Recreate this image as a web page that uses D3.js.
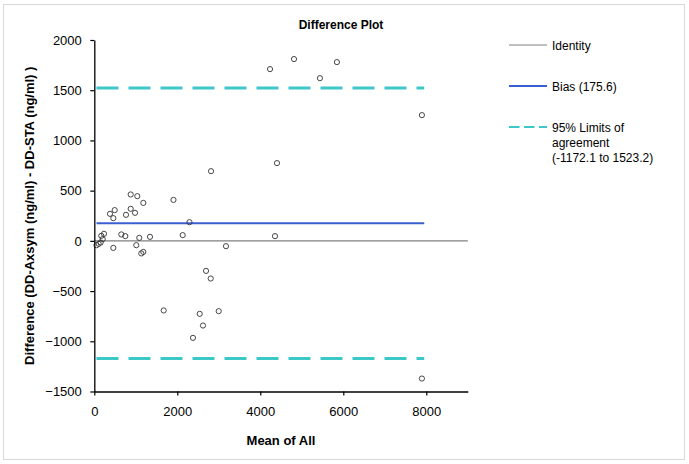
<!DOCTYPE html>
<html>
<head>
<meta charset="utf-8">
<script src="https://cdn.jsdelivr.net/npm/d3@7"></script>
<style>
  body { margin: 0; background: #fff; }
  svg text { font-family: "Liberation Sans", Arial, sans-serif; fill: #000; }
</style>
</head>
<body>
<div id="chart"></div>
<script>
// Difference plot: mean of all vs difference
const meanValues = [
  4234, 4812, 5437, 5846, 7894, 4402, 2813, 1908, 2294, 4354,
  3173, 2130, 2692, 2805, 1672, 2998, 2540, 2619, 2378, 7894,
  877, 1036, 1181, 492, 378, 458, 764, 877, 981, 234,
  651, 747, 1084, 1342, 106, 154, 202, 169, 53, 458,
  1012, 1133, 1181
];
const diffValues = [
  1710, 1810, 1620, 1780, 1252, 774, 694, 408, 186, 47,
  -53, 57, -299, -375, -693, -700, -727, -843, -966, -1371,
  462, 445, 378, 306, 269, 226, 259, 319, 279, 70,
  64, 47, 30, 40, -30, -16, 17, 50, -43, -70,
  -43, -125, -110
];
const xTicks = [0, 2000, 4000, 6000, 8000];
const yTicks = [-1500, -1000, -500, 0, 500, 1000, 1500, 2000];
const bias = 175.6;
const limits = [-1172.1, 1523.2];
const lineExtent = [53, 7950];
const legendItems = [
  { key: "identity", lines: ["Identity"] },
  { key: "bias", lines: ["Bias (175.6)"] },
  { key: "limits", lines: ["95% Limits of", "agreement", "(-1172.1 to 1523.2)"] }
];

const width = 689, height = 464;
const margin = { top: 40, left: 94.3, right: 689 - 467.8, bottom: 464 - 391.5 };
const COLORS = { identity: "#808080", bias: "#3a5fd0", limits: "#3cc8c8" };

const svg = d3.select("#chart").append("svg")
  .attr("width", width)
  .attr("height", height);

// outer frame
svg.append("rect")
  .attr("x", 3.5).attr("y", 4.5)
  .attr("width", 681).attr("height", 455)
  .attr("fill", "#fff")
  .attr("stroke", "#d9d9d9");

const x = d3.scaleLinear().domain([0, 9000]).range([margin.left, width - margin.right]);
const y = d3.scaleLinear().domain([-1500, 2000]).range([height - margin.bottom, margin.top]);

const data = d3.zip(meanValues, diffValues).map(([m, d]) => ({ x: m, y: d }));

// identity line across the whole plot
svg.append("line")
  .attr("x1", x(0)).attr("x2", x(9000))
  .attr("y1", y(0)).attr("y2", y(0))
  .attr("stroke", COLORS.identity)
  .attr("stroke-width", 1.2);

// bias
svg.append("line")
  .attr("x1", x(lineExtent[0])).attr("x2", x(lineExtent[1]))
  .attr("y1", y(bias)).attr("y2", y(bias))
  .attr("stroke", COLORS.bias)
  .attr("stroke-width", 2);

// limits of agreement
svg.append("g")
  .selectAll("line")
  .data(limits)
  .join("line")
  .attr("x1", x(lineExtent[0])).attr("x2", x(lineExtent[1]))
  .attr("y1", (d) => y(d)).attr("y2", (d) => y(d))
  .attr("stroke", COLORS.limits)
  .attr("stroke-width", 3)
  .attr("stroke-dasharray", "22,10");

// points
svg.append("g")
  .selectAll("circle")
  .data(data)
  .join("circle")
  .attr("cx", (d) => x(d.x))
  .attr("cy", (d) => y(d.y))
  .attr("r", 2.6)
  .attr("fill", "none")
  .attr("stroke", "#333")
  .attr("stroke-width", 0.9);

// axes
const fmt = d3.format("d");
const gx = svg.append("g")
  .attr("transform", `translate(0,${y(-1500)})`)
  .call(d3.axisBottom(x).tickValues(xTicks).tickFormat(fmt).tickSize(4).tickSizeOuter(0).tickPadding(11));
const gy = svg.append("g")
  .attr("transform", `translate(${x(0)},0)`)
  .call(d3.axisLeft(y).tickValues(yTicks).tickFormat(fmt).tickSize(4).tickSizeOuter(0).tickPadding(8.5));

[gx, gy].forEach((g) => {
  g.select(".domain").attr("stroke", "#000").attr("stroke-width", 1.3);
  g.selectAll(".tick line").attr("stroke", "#000").attr("stroke-width", 1.2);
  g.selectAll("text")
    .attr("font-size", 13)
    .attr("font-family", "Liberation Sans, Arial, sans-serif")
    .attr("fill", "#000");
});

// titles
svg.append("text")
  .attr("x", 341).attr("y", 29)
  .attr("text-anchor", "middle")
  .attr("font-size", 12)
  .attr("font-weight", "bold")
  .text("Difference Plot");

svg.append("text")
  .attr("x", 281).attr("y", 445)
  .attr("text-anchor", "middle")
  .attr("font-size", 13)
  .attr("font-weight", "bold")
  .text("Mean of All");

svg.append("text")
  .attr("transform", `translate(34,${(y(2000) + y(-1500)) / 2}) rotate(-90)`)
  .attr("text-anchor", "middle")
  .attr("font-size", 13)
  .attr("font-weight", "bold")
  .text("Difference (DD-Axsym (ng/ml) - DD-STA (ng/ml) )");

// legend
const legend = svg.append("g").attr("transform", "translate(509,45)");
const item = legend.selectAll("g")
  .data(legendItems)
  .join("g")
  .attr("transform", (d, i) => `translate(0,${i * 41})`);

item.append("line")
  .attr("x1", 0).attr("x2", 38)
  .attr("stroke", (d) => COLORS[d.key])
  .attr("stroke-width", (d) => (d.key === "identity" ? 1 : d.key === "bias" ? 2 : 1.8))
  .attr("stroke-dasharray", (d) => (d.key === "limits" ? "10.5,4.5" : null));

item.append("text")
  .attr("x", 43)
  .attr("y", 4.5)
  .attr("font-size", 12)
  .attr("fill", "#222")
  .selectAll("tspan")
  .data((d) => d.lines)
  .join("tspan")
  .attr("x", 43)
  .attr("dy", (d, i) => (i === 0 ? 0 : 15))
  .text((d) => d);
</script>
</body>
</html>
